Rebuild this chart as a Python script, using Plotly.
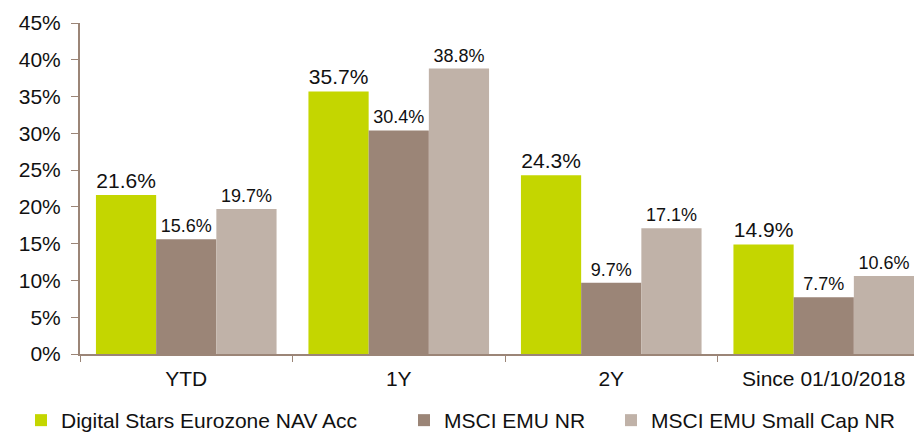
import plotly.graph_objects as go

categories = ["YTD", "1Y", "2Y", "Since 01/10/2018"]
series_names = ["Digital Stars Eurozone NAV Acc", "MSCI EMU NR", "MSCI EMU Small Cap NR"]
fund = [21.6, 35.7, 24.3, 14.9]
msci_emu = [15.6, 30.4, 9.7, 7.7]
msci_small = [19.7, 38.8, 17.1, 10.6]
y_ticks = [0, 5, 10, 15, 20, 25, 30, 35, 40, 45]
y_tick_labels = ["0%", "5%", "10%", "15%", "20%", "25%", "30%", "35%", "40%", "45%"]

colors = ["#c4d600", "#9b8577", "#c0b2a8"]
label_sizes = [21, 18, 18]
FONT = "Liberation Sans, Arial"

fig = go.Figure()
for i, (name, vals) in enumerate(zip(series_names, [fund, msci_emu, msci_small])):
    fig.add_trace(go.Bar(
        x=categories, y=vals, name=name,
        marker=dict(color=colors[i], line=dict(width=0)),
        texttemplate="%{y:.1f}%", textposition="outside",
        textfont=dict(size=label_sizes[i], color="#111111", family=FONT),
        cliponaxis=False, showlegend=True,
        legend="legend" if i == 0 else f"legend{i+1}",
    ))

OFF = 8  # page body offset
L, T, B, W, H = 80 - OFF, 23 - OFF, 78 + OFF, 922, 432
pw, ph = W - L, H - T - B


def px_x(x):
    return (x - OFF - L) / pw


def px_y(y):
    return (H - B - (y - OFF)) / ph


leg_common = dict(orientation="h", xref="paper", yref="paper", y=px_y(400), yanchor="top",
                  xanchor="left",
                  font=dict(size=21, family=FONT, color="#111111"),
                  bgcolor="rgba(0,0,0,0)", itemwidth=30, borderwidth=0)

fig.update_layout(
    width=W, height=H, showlegend=True,
    margin=dict(l=L, r=0, t=T, b=B, autoexpand=False),
    paper_bgcolor="white", plot_bgcolor="white",
    barmode="group", bargap=0.15, bargroupgap=0,
    font=dict(family=FONT, color="#111111"),
    legend=dict(**leg_common, x=px_x(21)),
    legend2=dict(**leg_common, x=px_x(404)),
    legend3=dict(**leg_common, x=px_x(611)),
    xaxis=dict(
        showline=True, linecolor="#9b8577", linewidth=2,
        ticks="outside", tickson="boundaries", ticklen=6, tickcolor="#9b8577",
        tickfont=dict(size=21, family=FONT, color="#111111"),
        ticklabelstandoff=5,
        showgrid=False, automargin=False,
    ),
    yaxis=dict(
        range=[0, 45], tickmode="array", tickvals=y_ticks, ticktext=y_tick_labels,
        showline=True, linecolor="#9b8577", linewidth=2,
        ticks="outside", ticklen=7, tickcolor="#9b8577",
        tickfont=dict(size=21, color="#111111", family=FONT),
        ticklabelstandoff=6,
        showgrid=False, zeroline=False, automargin=False,
    ),
)

fig.write_html("out.html")
